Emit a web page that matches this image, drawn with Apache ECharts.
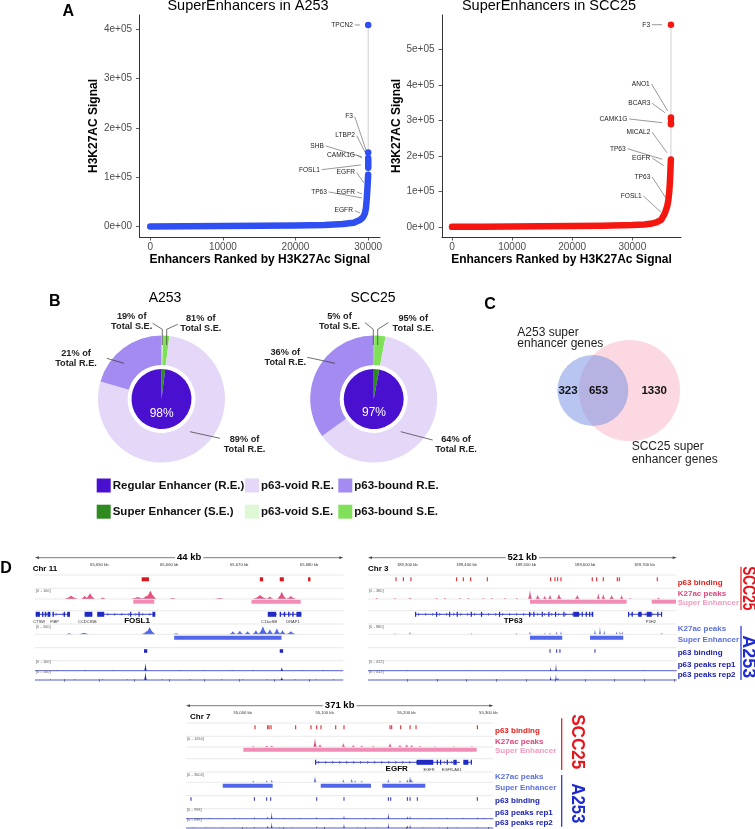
<!DOCTYPE html>
<html><head><meta charset="utf-8">
<script src="https://cdn.jsdelivr.net/npm/echarts@6/dist/echarts.min.js"></script>
<style>html,body{margin:0;padding:0;background:#fff}#c{width:755px;height:829px}</style>
</head><body><div id="c"></div>
<script>
// ================= DATA =================
// Panel A : hockey-stick curves (rank, H3K27Ac signal)
const a253Rank   = [0,5000,10000,15000,20000,24000,26500,28000,28870,29300,29560,29700,29790,29870,29930,29970,30000];
const a253Signal = [300,700,1100,1600,2200,3500,5500,8000,13500,19000,27500,38000,54000,70000,85000,97000,105000];
const a253TopRank   = [30005,30005,30005,30005,30005,30005,30005,30005];
const a253TopSignal = [119000,123000,127000,131000,135000,139000,150000,408000];
const a253Genes = ['TPCN2','F3','LTBP2','SHB','CAMK1G','FOSL1','EGFR','TP63','EGFR','EGFR'];
const a253GeneText   = [[27900,408300],[27900,222700],[28180,184200],[23900,163400],[28180,145100],[23350,115300],[28180,109300],[24320,70200],[28180,70200],[27900,32400]];
const a253GeneTarget = [[28870,408300],[29700,155300],[29560,151000],[29140,141100],[29140,139000],[29000,124900],[29420,88500],[29140,58100],[29140,66200],[28870,27700]];

const scc25Rank   = [0,5000,10000,15000,20000,25000,30000,32000,33000,34000,34800,35400,35800,36000,36150,36250,36320,36380,36420];
const scc25Signal = [400,900,1400,2000,2800,3800,5500,7000,9000,13000,20000,38000,58000,76000,100000,125000,150000,175000,190000];
const scc25TopRank   = [36430,36430,36430,36430,36430];
const scc25TopSignal = [289000,293000,304000,308000,569000];
const scc25Genes = ['F3','ANO1','BCAR3','CAMK1G','MICAL2','TP63','EGFR','TP63','FOSL1'];
const scc25GeneText   = [[32950,569000],[32900,402300],[33000,348000],[29170,303800],[33000,266400],[28900,220300],[33000,194100],[33000,140600],[31560,87200]];
const scc25GeneTarget = [[34940,569000],[35890,326300],[35440,321500],[34990,293400],[35770,209000],[34990,190400],[35220,172400],[35550,82400],[34770,41400]];

const aXTicks = [0,10000,20000,30000];
const a253YTicks = [0,100000,200000,300000,400000];
const scc25YTicks = [0,100000,200000,300000,400000,500000];

// Panel B : enhancer composition (%)
const pieCells   = ['A253','SCC25'];
const regularPct = [98, 97];
const superPct   = [2, 3];
const seVoidPct  = [19, 5];
const seBoundPct = [81, 95];
const reBoundPct = [21, 36];
const reVoidPct  = [89, 64];

// Panel C : Venn counts  [A253 only, shared, SCC25 only]
const vennCounts = [323, 653, 1330];

// Panel D : genome tracks (positions in kb)
const b1Range = [65640.8, 65684.9];
const b1Ticks = [65645,65650,65655,65660,65665,65670,65675,65680];
const b1TickLabels = [65650,65660,65670,65680];
const b1SccP63 = [[65656.06,65657.1],[65672.96,65673.43],[65675.81,65676.39],[65679.86,65680.2]];
const b1SccK27 = [[65645.96,30,1.9],[65648.67,52,1.4],[65647.9,30,1.0],[65650.5,14,0.9],[65655.5,18,2],[65656.7,30,1.2],[65657.3,75,1.7],[65660.5,9,1],[65667.2,9,1.5],[65673.0,36,2],[65674.4,23,1],[65676.1,66,1.3],[65677.4,27,1.5]];
const b1SccSE = [[65654.86,65657.86],[65671.77,65678.81]];
const b1Genes = [
  {name:'CTSW', start:65640.9, end:65643.0, exons:[[65640.9,65641.5],[65641.8,65642.0],[65642.2,65642.4],[65642.6,65643.0]], nameAt:65641.4},
  {name:'FIBP', start:65643.3, end:65645.8, exons:[[65643.3,65643.5],[65644.9,65645.1],[65645.4,65645.8]], nameAt:65643.6},
  {name:'CCDC85B', start:65647.9, end:65649.0, exons:[[65647.9,65649.0]], nameAt:65648.3},
  {name:'FOSL1', start:65649.7, end:65658.0, exons:[[65649.7,65650.7],[65654.4,65654.55],[65655.6,65655.75],[65657.6,65658.0]], nameAt:null},
  {name:'C11orf68', start:65674.1, end:65675.4, exons:[[65674.1,65675.3]], nameAt:65674.3},
  {name:'DRAP1', start:65675.8, end:65678.9, exons:[[65675.8,65676.0],[65676.4,65676.6],[65677.0,65677.2],[65677.6,65677.8],[65678.2,65678.9]], nameAt:65677.7}
];
const b1Highlight = ['FOSL1', 65655.4];
const b1AK27 = [[65645.7,9,1],[65647.8,14,1.5],[65656.8,30,1.5],[65657.2,64,1.6],[65661,9,1],[65669.1,27,1],[65670.1,32,1],[65671.2,27,1],[65672.4,36,1],[65673.4,73,1.3],[65674.4,45,1],[65675.4,55,1],[65676.2,36,1],[65677.4,27,1.4]];
const b1ASE = [[65660.71,65676.06]];
const b1AP63 = [[65656.39,65656.86],[65675.81,65676.29]];
const b1Rep1 = [[65656.6,82,0.35],[65676.1,36,0.4],[65644,6,0.3],[65648,6,0.3],[65652,5,0.3],[65661.5,6,0.3],[65665,5,0.3],[65669,6,0.3],[65672,5,0.3],[65679,6,0.3],[65682,5,0.3]];
const b1Rep2 = [[65656.6,85,0.35],[65676.1,30,0.4],[65643,6,0.3],[65646.5,5,0.3],[65650.5,6,0.3],[65654,5,0.3],[65659,6,0.3],[65663,5,0.3],[65667.5,6,0.3],[65670.5,5,0.3],[65674,6,0.3],[65678,5,0.3],[65681,6,0.3],[65683.5,5,0.3]];
const b1RangeText = ['[0 - 100]','[0 - 500]','[0 - 100]','[0 - 100]'];

const b2Range = [189233.7, 189754.6];
const b2Ticks = [189300,189350,189400,189450,189500,189550,189600,189650,189700,189750];
const b2TickLabels = [189300,189400,189500,189600,189700];
const b2SccP63 = [[189280.9,189280.9],[189293.3,189293.3],[189306.2,189306.2],[189383.3,189383.3],[189394.5,189394.5],[189407.0,189407.0],[189435.0,189435.0],[189541.9,189541.9],[189549.2,189549.2],[189553.8,189553.8],[189559.3,189559.3],[189612.1,189612.1],[189619.6,189619.6],[189630.7,189630.7],[189654.3,189654.3],[189657.7,189657.7],[189721.8,189721.8]];
const b2SccK27 = [[189248.4,9,5],[189279.2,9,5],[189304.6,14,5],[189349.6,9,5],[189363.6,9,5],[189388.9,9,5],[189402.9,9,5],[189428.2,9,5],[189442.4,9,5],[189464.8,9,5],[189484.6,9,5],[189507.0,82,6],[189520.0,36,8],[189532,30,6],[189540.8,41,6],[189556.0,45,8],[189586.8,36,8],[189622.3,55,5],[189630.7,45,6],[189644.9,36,8],[189661.7,36,6],[189675.7,9,5],[189723.5,14,5]];
const b2SccSE = [[189507.0,189670.2],[189712.4,189753.4]];
const b2Genes = [
  {name:'TP63', start:189313.0, end:189613.8, exons:[[189313.0,189314.5],[189348.4,189349.6],[189370.4,189371.6],[189383.3,189384.5],[189407.0,189408.2],[189424.3,189425.5],[189454.7,189455.9],[189505.3,189506.5],[189512.6,189513.8],[189526.8,189528],[189537.9,189539.1],[189549.2,189550.4],[189563.2,189564.4],[189580.1,189589.7],[189594.2,189595.4],[189601.0,189602.2],[189606.6,189607.8],[189611.1,189613.8]], nameAt:null},
  {name:'P3H2', start:189672.4, end:189729.2, exons:[[189672.4,189673.9],[189678.6,189680],[189689.7,189695.5],[189703.9,189712.4],[189721.8,189723.5],[189728,189729.2]], nameAt:189711}
];
const b2Highlight = ['TP63', 189478.8];
const b2AK27 = [[189279.2,9,3],[189304.6,23,3],[189408.7,9,3],[189484.6,9,3],[189507.0,27,3],[189532.3,14,3],[189540.8,18,3],[189552.1,27,3],[189559.3,27,3],[189616.7,45,3],[189625.1,73,3],[189632.4,36,3],[189653.3,27,3],[189658.9,27,3],[189662.7,27,3],[189729.2,14,3]];
const b2ASE = [[189507.0,189561.5],[189608.3,189664.4]];
const b2AP63 = [[189540.8,189540.8],[189552.1,189552.1],[189557.6,189557.6],[189616.7,189616.7]];
const b2Rep1 = [[189541.9,36,1.5],[189550.9,82,1.5],[189300,5,1],[189400,5,1],[189600,6,1],[189700,5,1]];
const b2Rep2 = [[189541.9,45,1.5],[189550.9,64,1.5],[189554.3,27,1.2],[189350,5,1],[189450,5,1],[189650,5,1]];
const b2RangeText = ['[0 - 380]','[0 - 880]','[0 - 412]','[0 - 412]'];

const b3Range = [54930.7, 55306.1];
const b3Ticks = [55000,55050,55100,55150,55200,55250,55300];
const b3TickLabels = [55000,55100,55200,55300];
const b3SccP63 = [[55015.0,55015.0],[55030.5,55030.5],[55032.1,55032.1],[55034.6,55034.6],[55064.7,55064.7],[55083.4,55083.4],[55090.4,55090.4],[55095.6,55095.6],[55113.6,55113.6],[55123.7,55123.7],[55179.9,55179.9],[55182.0,55182.0],[55193.0,55193.0],[55204.4,55204.4],[55211.7,55211.7],[55286.6,55286.6]];
const b3SccK27 = [[55012.9,9,4],[55029.3,14,4],[55035.4,14,4],[55088.3,82,4],[55094.4,27,4],[55122.9,36,4],[55135.1,18,4],[55145.4,14,4],[55159.5,9,4],[55179.9,36,4],[55192.1,18,4],[55200.3,23,4],[55206.4,18,4],[55216.6,9,4],[55235,6,4],[55258,6,4],[55280,6,4]];
const b3SccSE = [[55000.7,55285.8]];
const b3Genes = [
  {name:'EGFR', start:55088.3, end:55265.4, exons:[[55088.3,55089.3],[55212.5,55232.8],[55237.0,55237.9],[55241.0,55241.9],[55249.2,55250.1],[55257.3,55261.4]], nameAt:55227.6},
  {name:'EGFR-AS1', start:55269.5, end:55279.7, exons:[[55269.5,55275.6],[55278.6,55279.7]], nameAt:55255.3}
];
const b3Highlight = ['EGFR', 55188.1];
const b3AK27 = [[55012.9,14,3],[55029.3,18,3],[55035.4,23,3],[55088.3,55,3],[55122.9,27,3],[55133.1,32,3],[55137.2,18,3],[55145.4,14,3],[55177.9,27,3],[55192.1,18,3],[55201.1,27,3],[55204.4,55,3],[55206.4,27,3]];
const b3ASE = [[54975.6,55036.6],[55095.3,55156.7],[55170.5,55223.0]];
const b3AP63 = [[54936.8,54936.8],[55014.2,55014.2],[55029.3,55029.3],[55034.2,55034.2],[55090.4,55090.4],[55123.7,55123.7],[55177.9,55177.9],[55180.8,55180.8],[55201.1,55201.1],[55204.4,55204.4],[55213.3,55213.3],[55286.6,55286.6]];
const b3Rep1 = [[55014.2,18,1],[55030.5,23,1],[55035.4,70,1],[55090.4,18,1],[55123.7,36,1],[55177.9,64,1],[55201.1,27,1],[55204.4,27,1],[55286.6,14,1],[54945,8,1],[54960,8,1],[54990,8,1],[55050,8,1],[55070,8,1],[55110,8,1],[55150,8,1],[55160,8,1],[55230,8,1],[55250,8,1],[55270,8,1],[55295,8,1]];
const b3Rep2 = [[55014.2,14,1],[55030.5,27,1],[55035.4,64,1],[55090.4,18,1],[55123.7,45,1],[55177.9,55,1],[55201.1,32,1],[55204.4,36,1],[55286.6,14,1],[54940,8,1],[54955,8,1],[54975,8,1],[55005,8,1],[55045,8,1],[55060,8,1],[55100,8,1],[55140,8,1],[55165,8,1],[55220,8,1],[55240,8,1],[55262,8,1],[55300,8,1]];
const b3RangeText = ['[0 - 1264]','[0 - 3604]','[0 - 998]','[0 - 998]'];

const trackLabels = ['p63 binding','K27ac peaks','Super Enhancer','K27ac peaks','Super Enhancer','p63 binding','p63 peaks rep1','p63 peaks rep2'];

// ================= STYLE / LAYOUT =================
const FONT = "'Liberation Sans', Arial, Helvetica, sans-serif";
const f = (w, s) => `${w} ${s}px ${FONT}`;
const C = {re:'#4a10cf', reVoid:'#e4d7f8', reBound:'#a38bf1', se:'#2f8a20', seVoid:'#def7d4', seBound:'#80e05a'};
const BLUE = '#2f4ff2', RED = '#f5170f';
const GENE = '#1f2bc4';
const trackLabelColors = ['#e3201b','#e3457c','#f29bbf','#5a6fe0','#5a6fe0','#1c22b0','#1c22b0','#1c22b0'];
const ROW = {lines:[5,18.3,29,40.7,54,64.3,77.7,90.7], sccP63:9.3, sccK27:29, sccSE:31.7, gene:44.3, geneName:52.3, aK27:64.3, aSE:67.7, aP63:81, rep1:100.7, rep2:110, rangeRows:[20.7,57.3,92.3,102.3], labelRows:[12.3,24,32.7,59,70,82.7,94.7,104.7]};
const H_K27 = 11, H_REP = 9.5;

const blocks = [
  {range:b1Range, ticks:b1Ticks, tickLabels:b1TickLabels, chr:'Chr 11', span:'44 kb', sccP63:b1SccP63, sccK27:b1SccK27, sccSE:b1SccSE, genes:b1Genes, hl:b1Highlight, aK27:b1AK27, aSE:b1ASE, aP63:b1AP63, rep1:b1Rep1, rep2:b1Rep2, rangeText:b1RangeText},
  {range:b2Range, ticks:b2Ticks, tickLabels:b2TickLabels, chr:'Chr 3', span:'521 kb', sccP63:b2SccP63, sccK27:b2SccK27, sccSE:b2SccSE, genes:b2Genes, hl:b2Highlight, aK27:b2AK27, aSE:b2ASE, aP63:b2AP63, rep1:b2Rep1, rep2:b2Rep2, rangeText:b2RangeText},
  {range:b3Range, ticks:b3Ticks, tickLabels:b3TickLabels, chr:'Chr 7', span:'371 kb', sccP63:b3SccP63, sccK27:b3SccK27, sccSE:b3SccSE, genes:b3Genes, hl:b3Highlight, aK27:b3AK27, aSE:b3ASE, aP63:b3AP63, rep1:b3Rep1, rep2:b3Rep2, rangeText:b3RangeText}
];
const blockLayout = [
  {left:35, width:308.3, top:570, chrDx:-2.3, labels:false},
  {left:368, width:308.7, top:570, chrDx:0, labels:true, labelX:677.7, vLineX:741, vTextX:748.3, scc:[-3.3,40,18.3,0.76], a:[56,110,86.7,1]},
  {left:186, width:307.3, top:718, chrDx:4, labels:true, labelX:495, vLineX:561.7, vTextX:576.5, scc:[0.3,52,23.7,0.95], a:[57,108.7,85.3,0.93]}
];

// ================= HELPERS =================
const expFmt = v => { if (v === 0) return '0e+00'; const e = Math.floor(Math.log10(v)); const m = Math.round(v / Math.pow(10, e)); return m + 'e+' + (e < 10 ? '0' : '') + e; };
const kbFmt = v => String(v).replace(/\B(?=(\d{3})+(?!\d))/g, ',') + ' kb';

function aXAxis(gi, min, max, ticks) {
  return {gridIndex:gi, type:'value', min, max,
    axisLine:{onZero:false, lineStyle:{color:'#000', width:0.8}},
    axisTick:{customValues:ticks, length:3.5, lineStyle:{color:'#333', width:0.8}},
    axisLabel:{customValues:ticks, fontSize:10, color:'#4d4d4d', margin:5, fontFamily:FONT, formatter:v => String(v)},
    splitLine:{show:false},
    name:'Enhancers Ranked by H3K27Ac Signal', nameLocation:'middle', nameGap:17,
    nameTextStyle:{fontSize:12, fontWeight:'bold', color:'#000', fontFamily:FONT, verticalAlign:'top'}};
}
function aYAxis(gi, min, max, ticks, gap) {
  return {gridIndex:gi, type:'value', min, max,
    axisLine:{onZero:false, lineStyle:{color:'#000', width:0.8}},
    axisTick:{customValues:ticks, length:3.5, lineStyle:{color:'#333', width:0.8}},
    axisLabel:{customValues:ticks, fontSize:10, color:'#4d4d4d', margin:7.5, fontFamily:FONT, formatter:expFmt},
    splitLine:{show:false},
    name:'H3K27AC Signal', nameLocation:'middle', nameGap:gap, nameRotate:90,
    nameTextStyle:{fontSize:12, fontWeight:'bold', color:'#000', fontFamily:FONT}};
}
function curveSeries(gi, rank, sig, color) {
  return {type:'line', xAxisIndex:gi, yAxisIndex:gi, data:rank.map((r,i)=>[r,sig[i]]), symbol:'none', silent:true, z:3,
    lineStyle:{color, width:6.5, cap:'round', join:'round'}};
}
function connectorSeries(gi, rank, sig, tr, ts) {
  const d = [[rank[rank.length-1], sig[sig.length-1]]].concat(tr.map((r,i)=>[r, ts[i]]));
  return {type:'line', xAxisIndex:gi, yAxisIndex:gi, data:d, symbol:'none', silent:true, z:2, lineStyle:{color:'#c4c4c4', width:0.8}};
}
function topSeries(gi, tr, ts, color) {
  return {type:'scatter', xAxisIndex:gi, yAxisIndex:gi, data:tr.map((r,i)=>[r, ts[i]]), symbolSize:6.5, silent:true, z:4, itemStyle:{color, opacity:1}};
}
function geneLabelSeries(gi, names, text, target) {
  return {type:'custom', xAxisIndex:gi, yAxisIndex:gi, silent:true, z:5,
    data:text.map((t,i)=>[t[0], t[1], target[i][0], target[i][1]]),
    encode:{x:[0,2], y:[1,3]},
    renderItem:(params, api) => {
      const t = api.coord([api.value(0), api.value(1)]);
      const p = api.coord([api.value(2), api.value(3)]);
      return {type:'group', children:[
        {type:'line', shape:{x1:t[0]+1.8, y1:t[1], x2:p[0], y2:p[1]}, style:{stroke:'#333', lineWidth:0.5}},
        {type:'text', x:t[0], y:t[1], style:{text:names[params.dataIndex], font:f('normal',6.6), fill:'#1a1a1a', align:'right', verticalAlign:'middle'}}
      ]};
    }};
}
// genome track renderers
function renderInterval(rowY, h, color, minW) {
  return (params, api) => {
    const cs = params.coordSys;
    const x0 = api.coord([api.value(0), 0])[0];
    const x1 = api.coord([api.value(1), 0])[0];
    const w = Math.max(minW, x1 - x0);
    return {type:'rect', shape:{x:(x0+x1)/2 - w/2, y:cs.y + rowY - h/2, width:w, height:h}, style:{fill:color}};
  };
}
function renderSignal(baseY, H, color) {
  return (params, api) => {
    const cs = params.coordSys;
    const pos = api.value(0), val = api.value(1), w = api.value(2);
    let xl = api.coord([pos - w/2, 0])[0], xr = api.coord([pos + w/2, 0])[0];
    const xc = api.coord([pos, 0])[0];
    if (xr - xl < 1.4) { xl = xc - 0.7; xr = xc + 0.7; }
    const B = cs.y + baseY, h = val / 100 * H;
    return {type:'polygon', shape:{points:[[xl,B],[xl+(xc-xl)*0.6,B-h*0.45],[xc,B-h],[xc+(xr-xc)*0.4,B-h*0.45],[xr,B]]}, style:{fill:color}};
  };
}
function renderGenes(genes) {
  return (params, api) => {
    const cs = params.coordSys;
    const g = genes[params.dataIndex];
    const y = cs.y + ROW.gene;
    const X = v => api.coord([v, 0])[0];
    const x0 = X(g.start), x1 = X(g.end);
    const ch = [{type:'line', shape:{x1:x0, y1:y, x2:x1, y2:y}, style:{stroke:GENE, lineWidth:0.9}}];
    for (let x = x0 + 4; x < x1 - 2; x += 7) ch.push({type:'polyline', shape:{points:[[x-1,y-1.4],[x+0.4,y],[x-1,y+1.4]]}, style:{stroke:GENE, lineWidth:0.6, fill:null}});
    g.exons.forEach(e => { const a = X(e[0]), b = X(e[1]); const w = Math.max(1.2, b - a); ch.push({type:'rect', shape:{x:a, y:y-2.5, width:w, height:5}, style:{fill:GENE}}); });
    if (g.nameAt != null) ch.push({type:'text', x:X(g.nameAt), y:cs.y + ROW.geneName, style:{text:g.name, font:f('normal',4), fill:'#333', align:'center', verticalAlign:'middle'}});
    return {type:'group', children:ch};
  };
}

// ================= BUILD =================
const grid = [
  {left:139.5, top:15, width:240.5, height:222, outerBoundsMode:'none'},
  {left:442, top:15, width:239, height:222, outerBoundsMode:'none'},
  {left:500, top:280, width:255, height:230, outerBoundsMode:'none'}
];
const xAxis = [aXAxis(0, -1480, 31630, aXTicks), aXAxis(1, -1664, 38100, aXTicks),
  {gridIndex:2, type:'value', min:0, max:255, show:false}];
const yAxis = [aYAxis(0, -21000, 428500, a253YTicks, 36.5), aYAxis(1, -28130, 596340, scc25YTicks, 38),
  {gridIndex:2, type:'value', min:0, max:230, inverse:true, show:false}];
const series = [
  connectorSeries(0, a253Rank, a253Signal, a253TopRank, a253TopSignal),
  curveSeries(0, a253Rank, a253Signal, BLUE),
  topSeries(0, a253TopRank, a253TopSignal, BLUE),
  geneLabelSeries(0, a253Genes, a253GeneText, a253GeneTarget),
  connectorSeries(1, scc25Rank, scc25Signal, scc25TopRank, scc25TopSignal),
  curveSeries(1, scc25Rank, scc25Signal, RED),
  topSeries(1, scc25TopRank, scc25TopSignal, RED),
  geneLabelSeries(1, scc25Genes, scc25GeneText, scc25GeneTarget)
];

// Panel B pies
const pieLayout = [
  {center:[161.5,399], seVoid:[131.7,316.7,[[152.7,323.3],[162.3,329.3],[162.3,345]]], seBound:[200.8,318,[[177.7,324.3],[166.7,329.3],[166.7,345]]], reBound:[76,353.3,[[106.7,358.3],[124,363.3]]], reVoid:[244.5,439.3,[[220,438.3],[190,431.7]]], inner:[161.7,413.3], title:[165,298]},
  {center:[373.7,399], seVoid:[339.5,316.7,[[365,322.7],[373.3,329.3],[373.3,345]]], seBound:[413.2,318.3,[[388.3,322.7],[377.7,329.3],[377.7,345]]], reBound:[285.3,352.7,[[307.3,357.3],[335,363.3]]], reVoid:[456,439.3,[[432.7,440],[400.7,431.7]]], inner:[374,412.3], title:[373,298]}
];
pieCells.forEach((cell, i) => {
  const boundRE = regularPct[i] * reBoundPct[i] / 100;
  const common = {type:'pie', center:pieLayout[i].center, startAngle:90, clockwise:true, silent:true, label:{show:false}, labelLine:{show:false}, emphasis:{disabled:true}, itemStyle:{borderWidth:0}, z:2};
  series.push(Object.assign({}, common, {radius:[0,30], data:[
    {name:'Super Enhancer (S.E.)', value:superPct[i], itemStyle:{color:C.se}},
    {name:'Regular Enhancer (R.E.)', value:regularPct[i], itemStyle:{color:C.re}}]}));
  series.push(Object.assign({}, common, {radius:[34,63.5], data:[
    {name:'p63-void S.E.', value:superPct[i]*seVoidPct[i]/100, itemStyle:{color:C.seVoid}},
    {name:'p63-bound S.E.', value:superPct[i]*seBoundPct[i]/100, itemStyle:{color:C.seBound}},
    {name:'p63-void R.E.', value:regularPct[i]-boundRE, itemStyle:{color:C.reVoid}},
    {name:'p63-bound R.E.', value:boundRE, itemStyle:{color:C.reBound}}]}));
});

// Panel C venn (area proportional)
const VENN_R1 = 35.5, VENN_C1 = 92.8, VENN_Y = 110.5;
const nA = vennCounts[0] + vennCounts[1], nB = vennCounts[1] + vennCounts[2];
const pxPerUnit = Math.PI * VENN_R1 * VENN_R1 / nA;
const vr1 = VENN_R1, vr2 = Math.sqrt(nB * pxPerUnit / Math.PI);
function lens(d) {
  const a = vr1*vr1*Math.acos((d*d + vr1*vr1 - vr2*vr2)/(2*d*vr1));
  const b = vr2*vr2*Math.acos((d*d + vr2*vr2 - vr1*vr1)/(2*d*vr2));
  const c = 0.5*Math.sqrt((-d+vr1+vr2)*(d+vr1-vr2)*(d-vr1+vr2)*(d+vr1+vr2));
  return a + b - c;
}
let lo = Math.abs(vr2 - vr1) + 1e-6, hi = vr1 + vr2 - 1e-6;
const targetArea = vennCounts[1] * pxPerUnit;
for (let k = 0; k < 60; k++) { const m = (lo + hi)/2; if (lens(m) > targetArea) lo = m; else hi = m; }
const vd = (lo + hi)/2, VENN_C2 = VENN_C1 + vd;
series.push({type:'scatter', xAxisIndex:2, yAxisIndex:2, silent:true, z:2, data:[[VENN_C2, VENN_Y, nB]],
  symbolSize:v => 2*Math.sqrt(v[2]*pxPerUnit/Math.PI), itemStyle:{color:'#fcd8e2', opacity:1}});
series.push({type:'scatter', xAxisIndex:2, yAxisIndex:2, silent:true, z:3, data:[[VENN_C1, VENN_Y, nA]],
  symbolSize:v => 2*Math.sqrt(v[2]*pxPerUnit/Math.PI), itemStyle:{color:'rgb(112,140,226)', opacity:0.5}});
const vennNumX = [(VENN_C1 - vr1 + VENN_C2 - vr2)/2, (VENN_C2 - vr2 + VENN_C1 + vr1)/2 - 5, (VENN_C1 + vr1 + VENN_C2 + vr2)/2];
series.push({type:'custom', xAxisIndex:2, yAxisIndex:2, silent:true, z:6, data:vennCounts.map((c,i)=>[vennNumX[i], VENN_Y, c]),
  renderItem:(params, api) => { const p = api.coord([api.value(0), api.value(1)]); return {type:'text', x:p[0], y:p[1], style:{text:String(api.value(2)), font:f('bold',11.5), fill:'#111', align:'center', verticalAlign:'middle'}}; }});

// Panel D genome blocks
blocks.forEach((B, b) => {
  const Lo = blockLayout[b];
  const gi = 3 + b;
  grid.push({left:Lo.left, top:Lo.top, width:Lo.width, height:112, outerBoundsMode:'none'});
  xAxis.push({gridIndex:gi, type:'value', position:'top', min:B.range[0], max:B.range[1],
    axisLine:{show:false}, splitLine:{show:false},
    axisTick:{customValues:B.ticks, length:3, lineStyle:{color:'#555', width:0.6}},
    axisLabel:{customValues:B.tickLabels, formatter:kbFmt, fontSize:4.2, color:'#333', margin:3, fontFamily:FONT}});
  yAxis.push({gridIndex:gi, type:'value', min:0, max:1, show:false});
  const S = (data, renderItem, z) => ({type:'custom', xAxisIndex:gi, yAxisIndex:gi, silent:true, z:z||3, data, renderItem});
  series.push(S(B.sccP63, renderInterval(ROW.sccP63, 4, '#d9161f', 1)));
  series.push(S(B.sccK27, renderSignal(ROW.sccK27, H_K27, '#e8507e')));
  series.push(S(B.sccSE, renderInterval(ROW.sccSE, 4, '#f08db6', 1)));
  series.push(S(B.genes.map(g => [g.start, g.end]), renderGenes(B.genes)));
  series.push(S(B.aK27, renderSignal(ROW.aK27, H_K27, '#4f68e2')));
  series.push(S(B.aSE, renderInterval(ROW.aSE, 4, '#5166e8', 1)));
  series.push(S(B.aP63, renderInterval(ROW.aP63, 3.6, '#2327c4', 1)));
  series.push(S(B.rep1, renderSignal(ROW.rep1, H_REP, '#1d24b5'), 4));
  series.push(S(B.rep2, renderSignal(ROW.rep2, H_REP, '#1d24b5'), 4));
  const name = B.hl[0];
  series.push({type:'custom', xAxisIndex:gi, yAxisIndex:gi, silent:true, z:5, data:[[0, B.hl[1]]],
    renderItem:(params, api) => ({type:'text', x:api.coord([api.value(1), 0])[0], y:params.coordSys.y + ROW.geneName - 1.6,
      style:{text:name, font:f('bold',8), fill:'#000', align:'center', verticalAlign:'middle'}})});
});

// ================= GRAPHIC (titles, legend, annotations) =================
const G = [];
const T = (x, y, text, o = {}) => G.push({type:'text', x, y, z:10, silent:true, rotation:o.rot || 0, scaleX:o.sx || 1,
  style:{text, font:f(o.w || 'normal', o.s || 10), fill:o.c || '#000', align:o.a || 'center', verticalAlign:o.v || 'middle', backgroundColor:o.bg, padding:o.pad}});
const L = (pts, c = '#333', w = 0.7) => G.push({type:'polyline', z:10, silent:true, shape:{points:pts}, style:{stroke:c, lineWidth:w, fill:null}});
const R = (x, y, w, h, c) => G.push({type:'rect', z:10, silent:true, shape:{x, y, width:w, height:h}, style:{fill:c}});
const P = (pts, c) => G.push({type:'polygon', z:10, silent:true, shape:{points:pts}, style:{fill:c}});

// Panel A
T(68.3, 11.7, 'A', {w:'bold', s:16});
T(248, 5.5, 'SuperEnhancers in ' + pieCells[0], {s:14.5});
T(549, 5.5, 'SuperEnhancers in ' + pieCells[1], {s:14.5});

// Panel B
T(54.7, 302, 'B', {w:'bold', s:16});
pieCells.forEach((cell, i) => {
  const Lp = pieLayout[i];
  T(Lp.title[0], Lp.title[1], cell, {s:14});
  T(Lp.inner[0], Lp.inner[1], regularPct[i] + '%', {s:12, c:'#fff'});
  const lab = (spec, pct, kind) => {
    T(spec[0], spec[1], pct + '% of', {w:'bold', s:9.2, c:'#222'});
    T(spec[0], spec[1] + 10, 'Total ' + kind, {w:'bold', s:9.2, c:'#222'});
    L(spec[2], '#333', 0.7);
  };
  lab(Lp.seVoid, seVoidPct[i], 'S.E.');
  lab(Lp.seBound, seBoundPct[i], 'S.E.');
  lab(Lp.reBound, reBoundPct[i], 'R.E.');
  lab(Lp.reVoid, reVoidPct[i], 'R.E.');
});
const legendItems = [['Regular Enhancer (R.E.)', C.re], ['p63-void R.E.', C.reVoid], ['p63-bound R.E.', C.reBound],
                     ['Super Enhancer (S.E.)', C.se], ['p63-void S.E.', C.seVoid], ['p63-bound S.E.', C.seBound]];
const legCols = [96.7, 245, 338.3], legRows = [485.5, 511.7];
legendItems.forEach((it, k) => {
  const x = legCols[k % 3], y = legRows[Math.floor(k / 3)];
  R(x, y - 7, 14, 14, it[1]);
  T(x + 16, y, it[0], {w:'bold', s:11.5, a:'left', c:'#111'});
});

// Panel C
T(490, 305, 'C', {w:'bold', s:16});
T(517.3, 332.7, pieCells[0] + ' super', {s:12, a:'left', c:'#222'});
T(517.3, 343.6, 'enhancer genes', {s:12, a:'left', c:'#222'});
T(631.7, 446.7, pieCells[1] + ' super', {s:12, a:'left', c:'#222'});
T(631.7, 459.3, 'enhancer genes', {s:12, a:'left', c:'#222'});

// Panel D
T(6, 568.3, 'D', {w:'bold', s:16});
blocks.forEach((B, b) => {
  const Lo = blockLayout[b];
  const x0 = Lo.left, x1 = Lo.left + Lo.width, top = Lo.top;
  const sy = top - 12.3;
  L([[x0 + 3, sy], [x1 - 3, sy]], '#444', 0.7);
  P([[x0, sy], [x0 + 4, sy - 1.4], [x0 + 4, sy + 1.4]], '#444');
  P([[x1, sy], [x1 - 4, sy - 1.4], [x1 - 4, sy + 1.4]], '#444');
  T((x0 + x1) / 2, sy, B.span, {w:'bold', s:9.5, bg:'#fff', pad:[0, 2]});
  T(x0 + Lo.chrDx, top - 1.7, B.chr, {w:'bold', s:8, a:'left'});
  ROW.lines.forEach(ly => L([[x0, top + ly], [x1, top + ly]], '#dadada', 0.6));
  L([[x0, top + ROW.rep1], [x1, top + ROW.rep1]], '#2a34c0', 0.8);
  L([[x0, top + ROW.rep2], [x1, top + ROW.rep2]], '#2a34c0', 0.8);
  ROW.rangeRows.forEach((ry, k) => T(x0 + 1, top + ry, B.rangeText[k], {s:4, a:'left', c:'#666'}));
  if (Lo.labels) {
    trackLabels.forEach((t, k) => T(Lo.labelX, top + ROW.labelRows[k], t, {w:'bold', s:8, a:'left', c:trackLabelColors[k]}));
    L([[Lo.vLineX, top + Lo.scc[0]], [Lo.vLineX, top + Lo.scc[1]]], '#e8141c', 1.2);
    L([[Lo.vLineX, top + Lo.a[0]], [Lo.vLineX, top + Lo.a[1]]], '#1f2bd0', 1.2);
    T(Lo.vTextX, top + Lo.scc[2], pieCells[1], {w:'bold', s:18, c:'#e8141c', rot:-Math.PI/2, sx:Lo.scc[3]});
    T(Lo.vTextX, top + Lo.a[2], pieCells[0], {w:'bold', s:18, c:'#1f2bd0', rot:-Math.PI/2, sx:Lo.a[3]});
  }
});

const chart = echarts.init(document.getElementById('c'), null, {renderer:'canvas', width:755, height:829});
chart.setOption({animation:false, backgroundColor:'#fff', textStyle:{fontFamily:FONT}, grid, xAxis, yAxis, series, graphic:{elements:G}});
</script></body></html>
